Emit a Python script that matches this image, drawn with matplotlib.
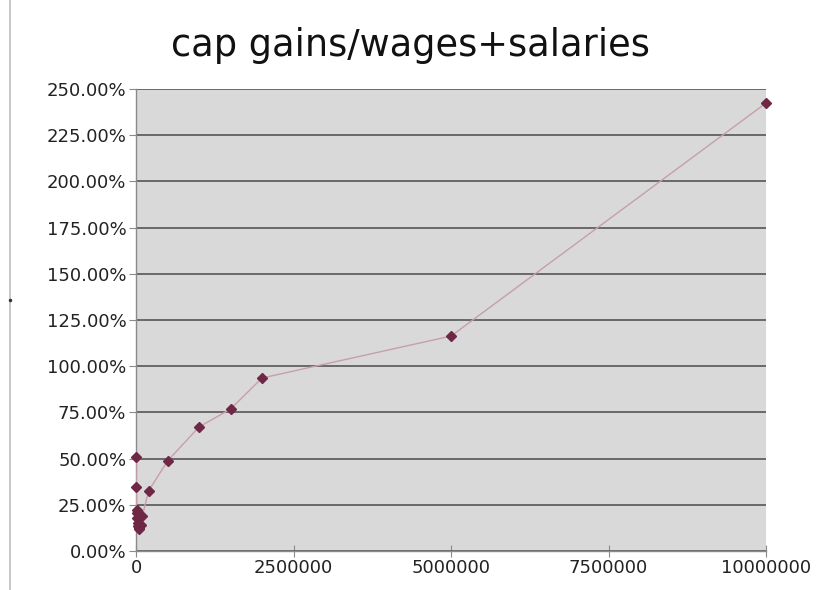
import matplotlib
matplotlib.use("Agg")
import matplotlib.pyplot as plt
from matplotlib.lines import Line2D
from matplotlib.ticker import FuncFormatter, MultipleLocator

# Data (income level vs. capital gains as % of wages+salaries)
income = [0, 5000, 10000, 15000, 20000, 25000, 30000, 40000, 50000, 75000,
          100000, 200000, 500000, 1000000, 1500000, 2000000, 5000000, 10000000]
ratio_pct = [50.9, 34.4, 22.0, 20.5, 18.0, 15.0, 13.5, 12.5, 12.0, 14.0,
             18.9, 32.5, 48.7, 67.1, 76.8, 93.6, 116.3, 242.4]

title = "cap gains/wages+salaries"
xticks = [0, 2500000, 5000000, 7500000, 10000000]

fig = plt.figure(figsize=(8.17, 5.90), dpi=100)
ax = fig.add_axes([136/817, 1-551/590, (766-136)/817, (551-89)/590])
ax.set_facecolor("#d9d9d9")

ax.plot(income, ratio_pct, color="#c79fa8", linewidth=1.0, zorder=3)
ax.plot(income, ratio_pct, linestyle="none", marker="D", markersize=5,
        color="#6e2846", zorder=4, clip_on=False)

ax.set_xlim(0, 10000000)
ax.set_ylim(0, 250)
ax.yaxis.set_major_locator(MultipleLocator(25))
ax.yaxis.set_major_formatter(FuncFormatter(lambda v, p: f"{v:.2f}%"))
ax.set_xticks(xticks)
ax.set_xticklabels([str(t) for t in xticks])

ax.grid(axis="y", color="#555555", linewidth=1.2, zorder=1)
ax.set_axisbelow(True)
for s in ["top", "right"]:
    ax.spines[s].set_visible(False)
for s in ["left", "bottom"]:
    ax.spines[s].set_color("#8a8a8a")
    ax.spines[s].set_linewidth(1.0)

ax.tick_params(axis="y", direction="out", length=5, color="#8a8a8a",
               labelsize=13, labelcolor="#222222", pad=2)
ax.tick_params(axis="x", direction="inout", length=8, color="#8a8a8a",
               labelsize=13, labelcolor="#222222", pad=2)

fig.text(0.502, 1-45/590, title, ha="center", va="center", fontsize=26.5,
         color="#111111")

# frame line at left edge of screenshot
fig.add_artist(Line2D([10/817, 10/817], [0, 1], transform=fig.transFigure,
                      color="#bdbdbd", linewidth=1.2))
fig.add_artist(Line2D([10/817], [1-300/590], transform=fig.transFigure,
                      marker="o", markersize=1.5, color="#333333", linestyle="none"))

fig.savefig("out.png", dpi=100)
